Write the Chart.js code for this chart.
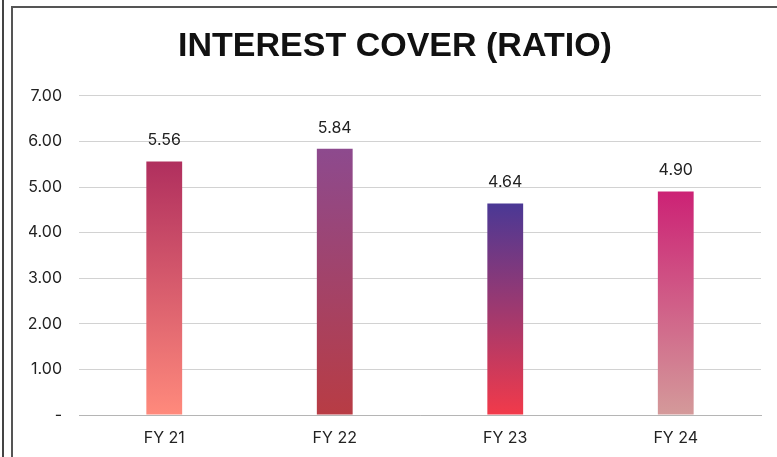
<!DOCTYPE html>
<html>
<head>
<meta charset="utf-8">
<script src="https://cdn.jsdelivr.net/npm/chart.js@4"></script>
<style>
  html, body { margin: 0; padding: 0; background: #fff; }
  #wrap { position: relative; width: 777px; height: 457px; overflow: hidden; }
  #edge { position: absolute; left: 2px; top: 0; width: 2px; height: 457px; background: #444; }
  #frame { position: absolute; left: 11px; top: 6px; width: 800px; height: 500px; border: 2px solid #555; box-sizing: border-box; }
  canvas { position: absolute; left: 0; top: 0; }
</style>
</head>
<body>
<div id="wrap">
  <div id="edge"></div>
  <div id="frame"></div>
  <canvas id="chart" width="777" height="457"></canvas>
</div>
<script>
const years = ['FY 21', 'FY 22', 'FY 23', 'FY 24'];
const ratios = [5.56, 5.84, 4.64, 4.90];
const topColors = ['#b02f5e', '#8d4a8e', '#4a3895', '#cc2275'];
const bottomColors = ['#ff8a7c', '#b83c44', '#f23a4a', '#d49a9a'];

function barGradient(context) {
  const chart = context.chart;
  const y = chart.scales.y;
  const i = context.dataIndex;
  if (!chart.chartArea || !y || i === undefined) return topColors[0];
  const top = y.getPixelForValue(ratios[i]);
  const bottom = y.getPixelForValue(0);
  if (!isFinite(top) || !isFinite(bottom)) return topColors[i];
  const g = chart.ctx.createLinearGradient(0, top, 0, bottom);
  g.addColorStop(0, topColors[i]);
  g.addColorStop(1, bottomColors[i]);
  return g;
}

const valueLabels = {
  id: 'valueLabels',
  afterDatasetsDraw(chart) {
    const ctx = chart.ctx;
    const meta = chart.getDatasetMeta(0);
    ctx.save();
    ctx.font = '16px Inter, "Liberation Sans", sans-serif';
    ctx.fillStyle = '#222';
    ctx.textAlign = 'center';
    ctx.textBaseline = 'middle';
    meta.data.forEach((bar, i) => {
      ctx.fillText(ratios[i].toFixed(2), bar.x, bar.y - 21);
    });
    ctx.restore();
  }
};

new Chart(document.getElementById('chart'), {
  type: 'bar',
  data: {
    labels: years,
    datasets: [{
      data: ratios,
      backgroundColor: barGradient,
      categoryPercentage: 1,
      barPercentage: 0.21
    }]
  },
  options: {
    responsive: false,
    animation: false,
    layout: { padding: { left: 29, right: 16, top: 0, bottom: 0 } },
    plugins: {
      legend: { display: false },
      tooltip: { enabled: false },
      title: {
        display: true,
        text: 'INTEREST COVER (RATIO)',
        color: '#111',
        font: { family: '"Liberation Sans", Arial, sans-serif', size: 34, weight: 'bold' },
        padding: { top: 26, bottom: 29 }
      }
    },
    scales: {
      x: {
        afterFit(scale) { scale.height = 42; },
        grid: { display: false, drawTicks: false },
        border: { color: '#b5b5b5', width: 1 },
        ticks: {
          color: '#222',
          padding: 14,
          font: { family: 'Inter, "Liberation Sans", sans-serif', size: 16 }
        }
      },
      y: {
        min: 0,
        max: 7,
        afterFit(scale) { scale.width = 50; },
        grid: { color: '#d2d2d2', lineWidth: 1, drawTicks: false },
        border: { display: false },
        ticks: {
          stepSize: 1,
          color: '#222',
          padding: 17,
          font: { family: 'Inter, "Liberation Sans", sans-serif', size: 16 },
          callback: v => v === 0 ? '-' : v.toFixed(2)
        }
      }
    }
  },
  plugins: [valueLabels]
});
</script>
</body>
</html>
